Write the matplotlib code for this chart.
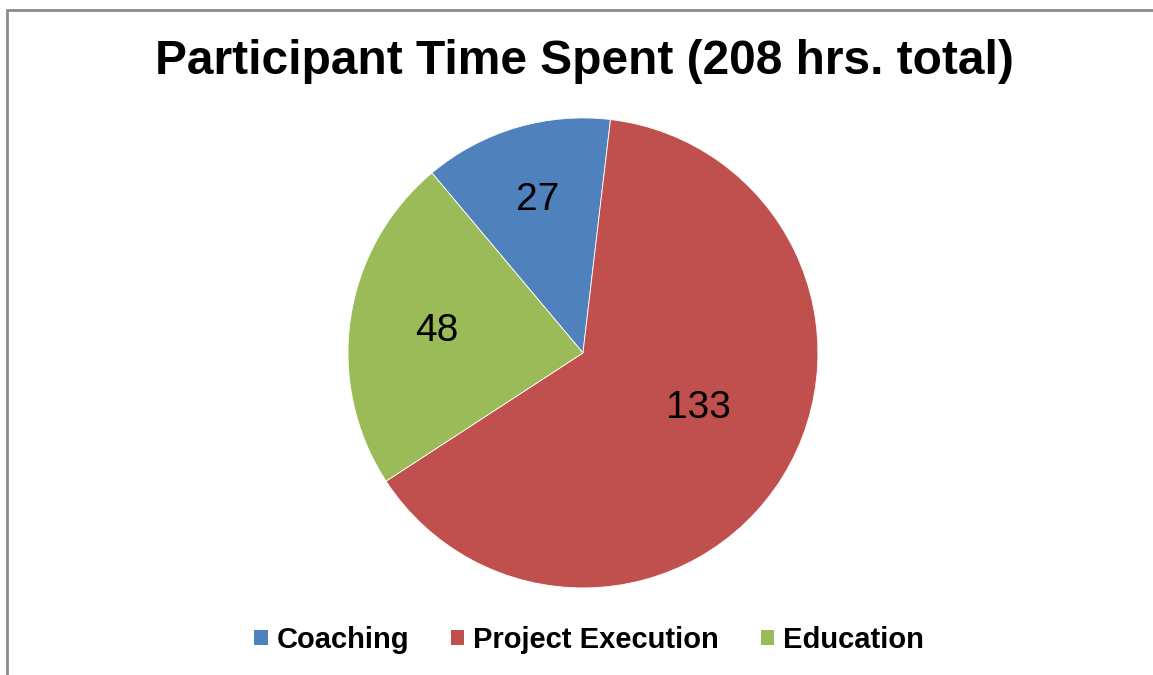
import matplotlib
matplotlib.use("Agg")
import numpy as np
from matplotlib import pyplot as plt
from matplotlib.patches import Rectangle, Patch

title = 'Participant Time Spent (208 hrs. total)'
categories = ['Coaching', 'Project Execution', 'Education']
hours = [27, 133, 48]
colors = ['#4F81BD', '#C0504D', '#9BBB59']
label_radius = [0.68, 0.545, 0.63]
label_turn = [0, 6.5, 0]   # degrees, nudges the value labels like Excel's best fit

plt.rcParams['font.family'] = ['Liberation Sans', 'DejaVu Sans']

fig = plt.figure(figsize=(11.53, 6.75), dpi=100)

# gray chart frame (only top and left edges are visible in the original)
fig.patches.append(Rectangle((6.5 / 1153, -0.1), 1.2, 1.1 - 9.5 / 675,
                             transform=fig.transFigure, fill=False,
                             edgecolor='#8c8c8c', linewidth=2))

ax = fig.add_axes([0.3018, 0.129, 0.4076, 0.6963])
wedges, _ = ax.pie(hours, colors=colors, startangle=130, counterclock=False,
                   radius=1, wedgeprops=dict(edgecolor='white', linewidth=0.6))
ax.set_xlim(-1, 1)
ax.set_ylim(-1, 1)
ax.set_aspect('auto')
ax.axis('off')

for w, val, r, t in zip(wedges, hours, label_radius, label_turn):
    mid = np.deg2rad((w.theta1 + w.theta2) / 2 + t)
    ax.text(r * np.cos(mid), r * np.sin(mid), str(val), fontsize=28,
            ha='center', va='center', color='black')

fig.text(0.5065, 1 - 62 / 675, title, fontsize=34.5, fontweight='bold',
         ha='center', va='center')

handles = [Patch(facecolor=c, edgecolor='none') for c in colors]
fig.legend(handles, categories, loc='center', bbox_to_anchor=(0.511, 0.052),
           ncol=3, frameon=False, prop=dict(size=21, weight='bold'),
           handlelength=0.45, handleheight=0.45, handletextpad=0.3,
           columnspacing=1.45)

fig.savefig('out.png', dpi=100)
